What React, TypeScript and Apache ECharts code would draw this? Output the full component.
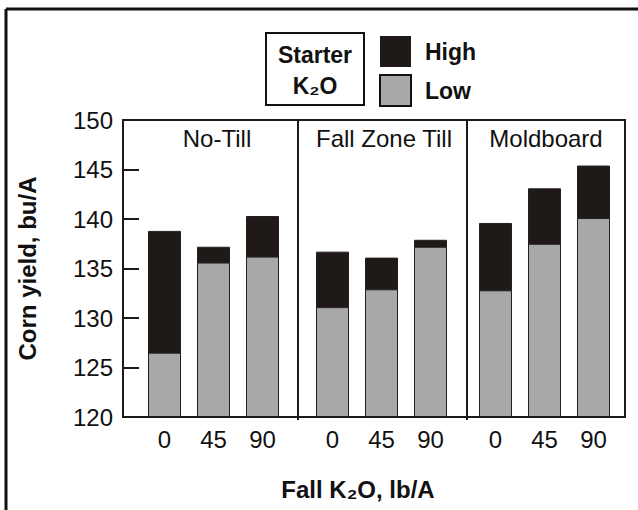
import React, { useEffect, useRef } from "react";
import * as echarts from "echarts";

// ---- data ----
const tillageSystems = ["No-Till", "Fall Zone Till", "Moldboard"];
const fallK2ORates = ["0", "45", "90"];
const seriesNames = ["High", "Low"];

const noTillHigh = [138.8, 137.2, 140.3];
const noTillLow = [126.5, 135.6, 136.2];
const zoneTillHigh = [136.7, 136.1, 137.9];
const zoneTillLow = [131.1, 132.9, 137.2];
const moldboardHigh = [139.6, 143.1, 145.4];
const moldboardLow = [132.8, 137.5, 140.1];

const yMin = 120;
const yMax = 150;
const yStep = 5;

const yTitle = "Corn yield, bu/A";
const xTitle = "Fall K\u2082O, lb/A";
const legendBoxLines = ["Starter", "K\u2082O"];

const FONT = "'Liberation Sans', Arial, Helvetica, sans-serif";
const HIGH_COLOR = "#1f1a17";
const LOW_COLOR = "#a8a8a8";
const EDGE = "#231f20";

export default function App() {
  const ref = useRef<HTMLDivElement>(null);

  useEffect(() => {
    if (!ref.current) return;
    const chart = echarts.init(ref.current, undefined, { renderer: "svg" });

    const plotTop = 120;
    const plotBottom = 93;
    const panelLefts = [140, 308, 471];
    const panelWidth = 147;
    const highs = [noTillHigh, zoneTillHigh, moldboardHigh];
    const lows = [noTillLow, zoneTillLow, moldboardLow];

    const grids: any[] = [
      {
        left: 123,
        top: plotTop,
        width: 502,
        bottom: plotBottom,
        show: true,
        borderColor: "#1a1a1a",
        borderWidth: 2,
        backgroundColor: "transparent",
        z: 3,
      },
    ];
    const xAxes: any[] = [
      { type: "category", gridIndex: 0, data: [""], show: false },
    ];
    const yAxes: any[] = [
      {
        type: "value",
        gridIndex: 0,
        min: yMin,
        max: yMax,
        interval: yStep,
        axisLine: { show: true, lineStyle: { color: "#1a1a1a", width: 2 } },
        axisTick: {
          show: true,
          inside: true,
          length: 16,
          lineStyle: { color: "#1a1a1a", width: 2 },
        },
        splitLine: { show: false },
        axisLabel: {
          color: "#111",
          fontSize: 24,
          fontFamily: FONT,
          margin: 10,
        },
        name: yTitle,
        nameLocation: "middle",
        nameRotate: 90,
        nameGap: 84,
        nameTextStyle: {
          color: "#111",
          fontSize: 24,
          fontWeight: "bold",
          fontFamily: FONT,
        },
        z: 5,
      },
    ];
    const series: any[] = [];

    tillageSystems.forEach((_, i) => {
      const gi = i + 1;
      grids.push({
        left: panelLefts[i],
        width: panelWidth,
        top: plotTop,
        bottom: plotBottom,
      });
      xAxes.push({
        type: "category",
        gridIndex: gi,
        data: fallK2ORates,
        axisLine: { show: false },
        axisTick: { show: false },
        axisLabel: {
          color: "#111",
          fontSize: 24,
          fontFamily: FONT,
          margin: 10,
        },
      });
      yAxes.push({
        type: "value",
        gridIndex: gi,
        min: yMin,
        max: yMax,
        interval: yStep,
        show: false,
        splitLine: { show: false },
      });
      series.push({
        name: seriesNames[0],
        type: "bar",
        xAxisIndex: gi,
        yAxisIndex: gi,
        data: highs[i],
        barWidth: 33,
        itemStyle: { color: HIGH_COLOR, borderColor: EDGE, borderWidth: 1 },
      });
      series.push({
        name: seriesNames[1],
        type: "bar",
        xAxisIndex: gi,
        yAxisIndex: gi,
        data: lows[i],
        barWidth: 33,
        barGap: "-100%",
        itemStyle: { color: LOW_COLOR, borderColor: EDGE, borderWidth: 1 },
      });
    });

    const panelCenters = [217, 384, 546];
    const dividers = [298, 467];

    const graphics: any[] = [
      // outer frame (top and left edges)
      {
        type: "line",
        shape: { x1: 6, y1: 9, x2: 640, y2: 9 },
        style: { stroke: "#111", lineWidth: 3 },
      },
      {
        type: "line",
        shape: { x1: 6, y1: 9, x2: 6, y2: 520 },
        style: { stroke: "#111", lineWidth: 3 },
      },
      ...dividers.map((x) => ({
        type: "line",
        shape: { x1: x, y1: 120, x2: x, y2: 420 },
        style: { stroke: "#1a1a1a", lineWidth: 2 },
        z: 10,
      })),
      ...tillageSystems.map((name, i) => ({
        type: "text",
        x: panelCenters[i],
        y: 138,
        style: {
          text: name,
          fill: "#111",
          font: `24px ${FONT}`,
          align: "center",
          verticalAlign: "middle",
        },
        z: 10,
      })),
      // "Starter K2O" legend title box
      {
        type: "rect",
        shape: { x: 266, y: 33, width: 98, height: 72 },
        style: { fill: "#fff", stroke: "#111", lineWidth: 2 },
      },
      {
        type: "text",
        x: 315,
        y: 55,
        style: {
          text: legendBoxLines[0],
          fill: "#111",
          font: `bold 23px ${FONT}`,
          align: "center",
          verticalAlign: "middle",
        },
      },
      {
        type: "text",
        x: 315,
        y: 86,
        style: {
          text: legendBoxLines[1],
          fill: "#111",
          font: `bold 23px ${FONT}`,
          align: "center",
          verticalAlign: "middle",
        },
      },
      {
        type: "text",
        x: 358,
        y: 489,
        style: {
          text: xTitle,
          fill: "#111",
          font: `bold 24px ${FONT}`,
          align: "center",
          verticalAlign: "middle",
        },
      },
    ];

    chart.setOption({
      animation: false,
      backgroundColor: "#fff",
      textStyle: { fontFamily: FONT },
      legend: {
        orient: "vertical",
        left: 379,
        top: 36,
        padding: 0,
        itemWidth: 31,
        itemHeight: 31,
        itemGap: 7,
        icon: "rect",
        selectedMode: false,
        textStyle: {
          color: "#111",
          fontSize: 23,
          fontWeight: "bold",
          fontFamily: FONT,
          padding: [0, 0, 0, 9],
        },
        data: [
          { name: seriesNames[0], itemStyle: { color: HIGH_COLOR, borderWidth: 0 } },
          {
            name: seriesNames[1],
            itemStyle: { color: LOW_COLOR, borderColor: "#111", borderWidth: 2 },
          },
        ],
      },
      grid: grids,
      xAxis: xAxes,
      yAxis: yAxes,
      series,
      graphic: graphics,
    });

    return () => chart.dispose();
  }, []);

  return (
    <div
      ref={ref}
      style={{ position: "fixed", left: 0, top: 0, width: 638, height: 510 }}
    />
  );
}
